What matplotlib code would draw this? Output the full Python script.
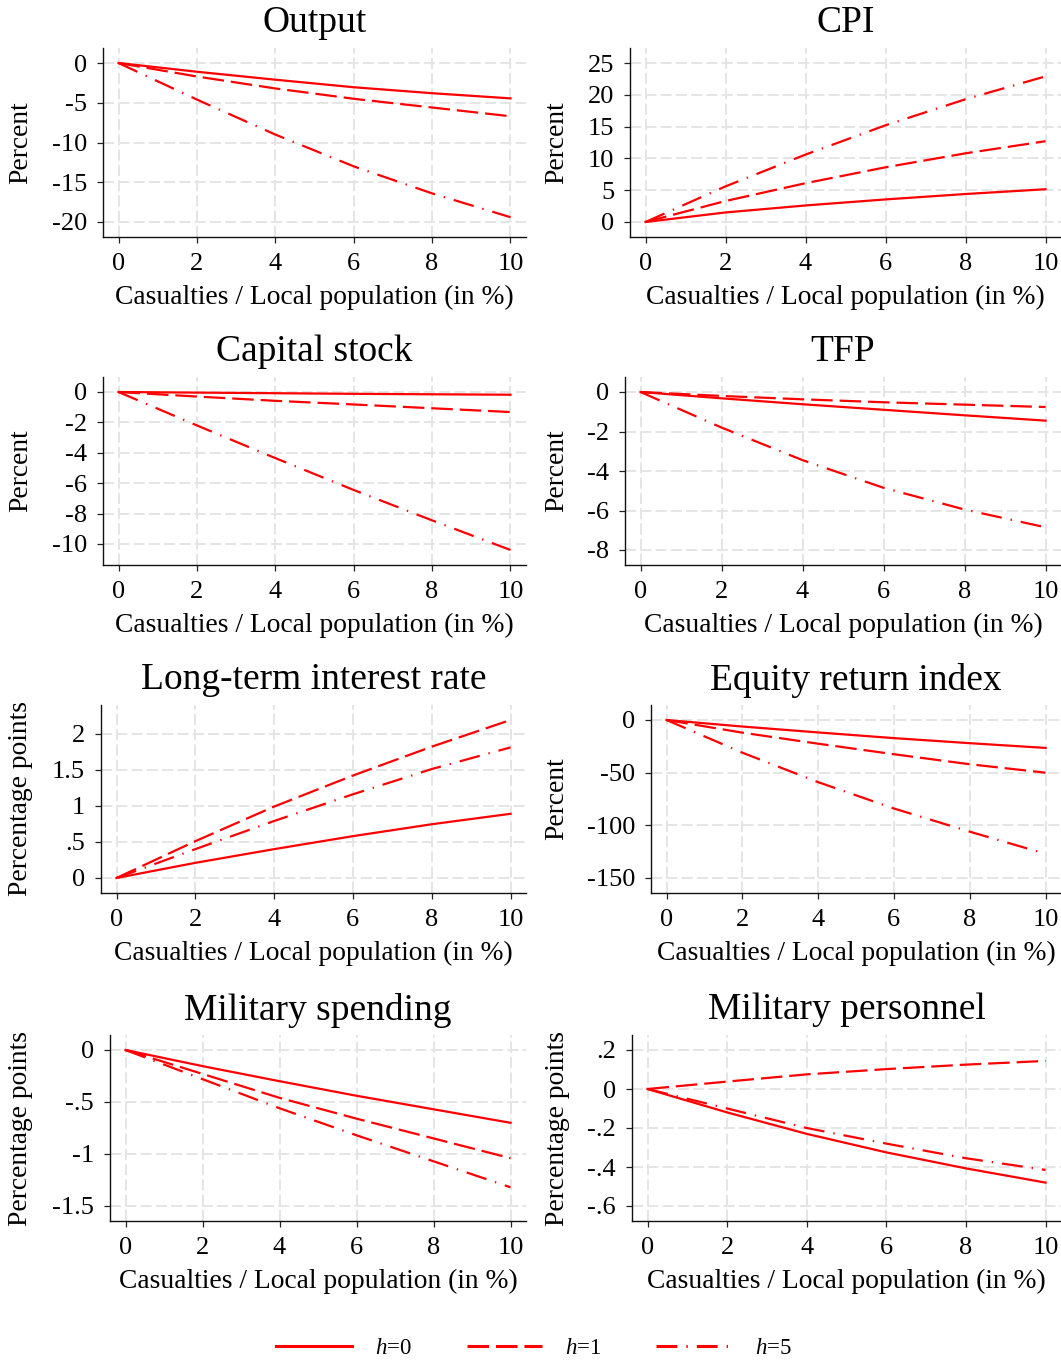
import numpy as np
import matplotlib
matplotlib.use('Agg')
import matplotlib.pyplot as plt
from matplotlib.lines import Line2D

plt.rcParams['font.family'] = ['Liberation Serif', 'DejaVu Serif']
plt.rcParams['mathtext.fontset'] = 'custom'
plt.rcParams['mathtext.it'] = 'Liberation Serif:italic'
plt.rcParams['mathtext.rm'] = 'Liberation Serif'
plt.rcParams['lines.scale_dashes'] = False

# casualties / local population (in %)
x = [0, 2, 4, 6, 8, 10]

# responses for h=0, h=1, h=5
output_h0 = [0, -1.1, -2.1, -3.05, -3.8, -4.45]
output_h1 = [0, -1.7, -3.2, -4.5, -5.6, -6.7]
output_h5 = [0, -4.6, -9.0, -13.0, -16.4, -19.4]

cpi_h0 = [0, 1.5, 2.6, 3.55, 4.4, 5.15]
cpi_h1 = [0, 3.3, 6.1, 8.6, 10.8, 12.7]
cpi_h5 = [0, 5.6, 10.6, 15.2, 19.3, 22.9]

capital_h0 = [0, -0.04, -0.08, -0.12, -0.15, -0.18]
capital_h1 = [0, -0.3, -0.58, -0.82, -1.07, -1.32]
capital_h5 = [0, -2.2, -4.35, -6.45, -8.45, -10.4]

tfp_h0 = [0, -0.32, -0.62, -0.9, -1.18, -1.45]
tfp_h1 = [0, -0.2, -0.37, -0.52, -0.64, -0.76]
tfp_h5 = [0, -1.8, -3.45, -4.85, -5.95, -6.85]

rate_h0 = [0, 0.21, 0.40, 0.58, 0.745, 0.89]
rate_h1 = [0, 0.51, 0.99, 1.42, 1.82, 2.19]
rate_h5 = [0, 0.40, 0.79, 1.16, 1.51, 1.81]

equity_h0 = [0, -6.2, -11.8, -17.2, -22, -26.5]
equity_h1 = [0, -12, -22.5, -32.5, -42, -50]
equity_h5 = [0, -31, -59, -84, -106, -127]

milspend_h0 = [0, -0.155, -0.30, -0.44, -0.57, -0.70]
milspend_h1 = [0, -0.23, -0.46, -0.66, -0.85, -1.04]
milspend_h5 = [0, -0.28, -0.56, -0.82, -1.07, -1.32]

milpers_h0 = [0, -0.12, -0.23, -0.325, -0.407, -0.48]
milpers_h1 = [0, 0.038, 0.075, 0.102, 0.125, 0.144]
milpers_h5 = [0, -0.10, -0.20, -0.28, -0.355, -0.415]

# y ticks and labels
output_ticks = [0, -5, -10, -15, -20]
cpi_ticks = [0, 5, 10, 15, 20, 25]
capital_ticks = [0, -2, -4, -6, -8, -10]
tfp_ticks = [0, -2, -4, -6, -8]
rate_ticks = [0, 0.5, 1, 1.5, 2]
rate_labels = ['0', '.5', '1', '1.5', '2']
equity_ticks = [0, -50, -100, -150]
milspend_ticks = [0, -0.5, -1, -1.5]
milspend_labels = ['0', '-.5', '-1', '-1.5']
milpers_ticks = [0.2, 0, -0.2, -0.4, -0.6]
milpers_labels = ['.2', '0', '-.2', '-.4', '-.6']

W, H = 1061, 1362
fig = plt.figure(figsize=(W / 100, H / 100), dpi=100)

red = '#ff0000'
styles = ['-', (0, (15.5, 5)), (0, (15, 6.5, 1, 6.5))]
legend_labels = [r'$h$=0', r'$h$=1', r'$h$=5']

panels = [
    ('Output', 'Percent', (output_h0, output_h1, output_h5), output_ticks, None, (103, 48, 526, 237)),
    ('CPI', 'Percent', (cpi_h0, cpi_h1, cpi_h5), cpi_ticks, None, (630, 48, 1061, 237)),
    ('Capital stock', 'Percent', (capital_h0, capital_h1, capital_h5), capital_ticks, None, (103, 377, 526, 565)),
    ('TFP', 'Percent', (tfp_h0, tfp_h1, tfp_h5), tfp_ticks, None, (625, 377, 1061, 565)),
    ('Long-term interest rate', 'Percentage points', (rate_h0, rate_h1, rate_h5), rate_ticks, rate_labels, (101, 705, 526, 893)),
    ('Equity return index', 'Percent', (equity_h0, equity_h1, equity_h5), equity_ticks, None, (651, 705, 1061, 893)),
    ('Military spending', 'Percentage points', (milspend_h0, milspend_h1, milspend_h5), milspend_ticks, milspend_labels, (110, 1035, 526, 1221)),
    ('Military personnel', 'Percentage points', (milpers_h0, milpers_h1, milpers_h5), milpers_ticks, milpers_labels, (632, 1035, 1061, 1221)),
]

for i, (title, ylab, series, yt, ytl, (l, t, r, b)) in enumerate(panels):
    w, h = r - l, b - t
    ax = fig.add_axes([l / W, 1 - b / H, w / W, h / H])
    for s, ls in zip(series, styles):
        ax.plot(x, s, color=red, lw=1.6, linestyle=ls)

    # stata-like plot region margins (~15px)
    mx = 15.5 * 10 / (w - 31)
    ax.set_xlim(-mx, 10 + mx)
    allv = list(yt) + [v for s in series for v in s]
    lo, hi = min(allv), max(allv)
    my = 15 * (hi - lo) / (h - 30)
    ax.set_ylim(lo - my, hi + my)

    ax.set_xticks([0, 2, 4, 6, 8, 10])
    ax.set_yticks(yt)
    if ytl is None:
        ax.set_yticklabels([str(v) for v in yt])
    else:
        ax.set_yticklabels(ytl)
    ax.tick_params(axis='both', labelsize=19, length=4.5, width=0.9, color='#222222',
                   direction='out')
    ax.tick_params(axis='y', pad=7)
    ax.tick_params(axis='x', pad=7)

    ax.grid(True, color='#e5e5e5', lw=1.4, linestyle=(0, (8, 3)))
    ax.set_axisbelow(True)
    for sp in ['top', 'right']:
        ax.spines[sp].set_visible(False)
    for sp in ['left', 'bottom']:
        ax.spines[sp].set_linewidth(1.0)
        ax.spines[sp].set_color('#111111')

    ax.set_title(title, fontsize=27, y=1 + 25 / h, va='center', pad=0)
    ax.set_xlabel('Casualties / Local population (in %)', fontsize=19.8, va='center')
    ax.xaxis.set_label_coords(0.5, -60 / h)
    ax.set_ylabel(ylab, fontsize=19.8, va='center')
    lab_x = 21 if l < 300 else 557
    ax.yaxis.set_label_coords((lab_x - l) / w, 0.5)

handles = [Line2D([0], [0], color=red, lw=2.2, linestyle=ls) for ls in styles]
fig.legend(handles, legend_labels, loc='center', bbox_to_anchor=(534 / W, 1 - 1348 / H),
           ncol=3, frameon=False, fontsize=16.5, handlelength=3.3, handletextpad=1.0,
           columnspacing=2.4)

fig.savefig('out.png', dpi=100)
